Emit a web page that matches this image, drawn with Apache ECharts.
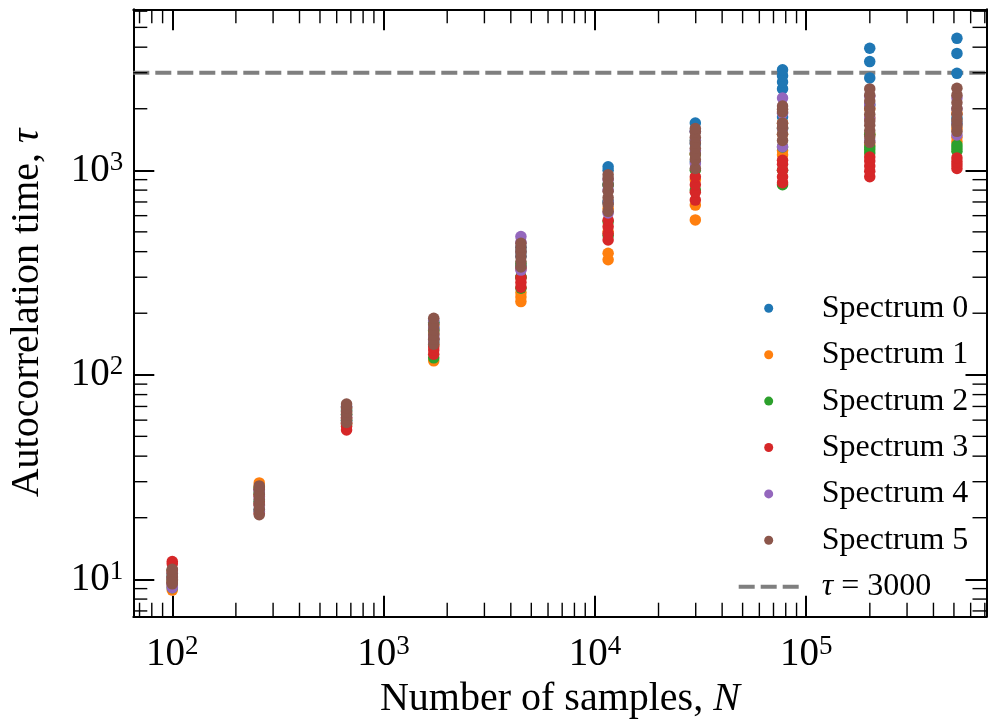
<!DOCTYPE html>
<html>
<head>
<meta charset="utf-8">
<script src="https://cdn.jsdelivr.net/npm/echarts@6/dist/echarts.min.js"></script>
<style>
html,body{margin:0;padding:0;background:#fff;}
#chart{width:988px;height:723px;}
</style>
</head>
<body>
<div id="chart"></div>
<script>
// ---------------- data ----------------
const N_SAMPLES = [100, 258, 668, 1727, 4466, 11550, 29870, 77250, 199800, 516700];

const SERIES_NAMES = ['Spectrum 0', 'Spectrum 1', 'Spectrum 2', 'Spectrum 3', 'Spectrum 4', 'Spectrum 5'];
const SERIES_COLORS = ['#1f77b4', '#ff7f0e', '#2ca02c', '#d62728', '#9467bd', '#8c564b'];

// autocorrelation time estimates, one inner list per N
const TAU_SPECTRUM_0 = [
  [9.6, 10.1, 10.6, 11.0, 10.3],
  [22, 24, 26, 27.5],
  [60, 64, 68, 70],
  [150, 160, 170, 180],
  [300, 340, 380, 420],
  [700, 850, 1000, 1040],
  [1100, 1350, 1550, 1703],
  [1820, 2500, 2700, 2900, 3100],
  [2085, 2830, 3400, 3950],
  [1800, 2980, 3730, 4420]
];
const TAU_SPECTRUM_1 = [
  [8.85, 9.3, 10.0, 10.8, 9.7],
  [23, 26, 28.5, 29.6],
  [58, 61, 65, 69],
  [117, 140, 160, 175],
  [228, 240, 252, 300],
  [365, 393, 500, 650],
  [572, 676, 900, 1200],
  [1190, 1250, 1500, 1700],
  [1330, 1500, 1800, 2000],
  [1380, 1450, 1600, 1900]
];
const TAU_SPECTRUM_2 = [
  [9.1, 9.6, 10.3, 11.1, 10.0],
  [21.5, 24, 26.5, 28],
  [57, 60, 64, 67],
  [121, 145, 165, 180],
  [265, 300, 350, 400],
  [480, 560, 700, 850],
  [800, 1000, 1200, 1400],
  [850, 1000, 1300, 1600],
  [1215, 1260, 1300, 1500],
  [1240, 1285, 1330, 1700]
];
const TAU_SPECTRUM_3 = [
  [10.2, 11.0, 11.9, 12.2, 9.6],
  [21, 23.5, 25.5, 27.5],
  [53.7, 56, 58, 62],
  [126, 132, 137, 150],
  [268, 283, 298, 330],
  [456, 490, 530, 570],
  [715, 780, 850, 930],
  [870, 930, 1000, 1070, 1120],
  [930, 990, 1050, 1110, 1160],
  [1020, 1060, 1100, 1150]
];
const TAU_SPECTRUM_4 = [
  [9.1, 9.5, 10.1, 10.7, 9.3],
  [21.5, 23, 25, 27],
  [59, 62, 66, 70],
  [145, 155, 170, 185],
  [325, 400, 445, 474],
  [618, 700, 800, 900],
  [1075, 1250, 1400, 1550],
  [1305, 1600, 1900, 2255],
  [1400, 1800, 2100, 2300],
  [1490, 1700, 2000, 2255]
];
const TAU_SPECTRUM_5 = [
  [9.5, 9.9, 10.3, 10.7, 11.2, 9.7],
  [20.7, 22, 23.3, 24.6, 26, 27.5, 28.6],
  [58.5, 61, 63.5, 66, 69, 72],
  [141, 149, 157, 166, 176, 189],
  [337, 357, 378, 400, 420, 440],
  [630, 680, 735, 790, 850, 910, 950],
  [1020, 1130, 1200, 1280, 1360, 1450, 1540, 1600],
  [1400, 1500, 1620, 1700, 1930, 1990, 2060],
  [1370, 1460, 1560, 1660, 1740, 1880, 2000, 2180, 2330, 2500],
  [1550, 1650, 1760, 1880, 2000, 2140, 2330, 2520]
];
const TAU_BY_SPECTRUM = [TAU_SPECTRUM_0, TAU_SPECTRUM_1, TAU_SPECTRUM_2, TAU_SPECTRUM_3, TAU_SPECTRUM_4, TAU_SPECTRUM_5];

const TAU_THRESHOLD = 3000;
const TAU_LINE_NAME = 'τ = 3000';

// axis ranges and ticks
const X_MIN = 65.4, X_MAX = 713000;
const Y_MIN = 6.56, Y_MAX = 6128;
const MINOR_MULTIPLIERS = [2, 3, 4, 5, 6, 7, 8, 9];
const X_DECADES = [10, 100, 1000, 10000, 100000];
const Y_DECADES = [1, 10, 100, 1000];

// ---------------- chart ----------------
const FONT = 'Liberation Serif';
const minorVals = (decades, lo, hi) => {
  const out = [];
  decades.forEach(d => MINOR_MULTIPLIERS.forEach(m => { const v = d * m; if (v > lo && v < hi) out.push(v); }));
  return out;
};
const X_MINOR = minorVals(X_DECADES, X_MIN, X_MAX);
const Y_MINOR = minorVals(Y_DECADES, Y_MIN, Y_MAX);

const powLabel = (v) => {
  const l = Math.log10(v), e = Math.round(l);
  if (Math.abs(l - e) > 1e-6) return '';
  return '{b|10}{s|' + e + '}';
};
const labelRich = {
  b: {fontFamily: FONT, fontSize: 39, color: '#000', lineHeight: 42},
  s: {fontFamily: FONT, fontSize: 27, color: '#000', lineHeight: 20, verticalAlign: 'top'}
};

const axisCommon = {
  type: 'log',
  logBase: 10,
  axisLine: {show: true, onZero: false, lineStyle: {color: '#000', width: 2}},
  axisTick: {show: true, inside: true, length: 21, lineStyle: {color: '#000', width: 2}},
  splitLine: {show: false},
  minorTick: {show: false},
  minorSplitLine: {show: false}
};

const scatterSeries = TAU_BY_SPECTRUM.map((tau, k) => ({
  type: 'scatter',
  name: SERIES_NAMES[k],
  xAxisIndex: 0, yAxisIndex: 0,
  symbol: 'circle',
  symbolSize: 11.5,
  itemStyle: {color: SERIES_COLORS[k], opacity: 1},
  z: 3,
  data: N_SAMPLES.flatMap((n, i) => tau[i].map(t => [n, t]))
}));

const tickSeries = (vals, isX) => ({
  type: 'custom',
  xAxisIndex: 0, yAxisIndex: 0,
  silent: true,
  z: 5,
  data: vals.map(v => isX ? [v, 10] : [1000, v]),
  renderItem: (params, api) => {
    const cs = params.coordSys;
    const p = api.coord([api.value(0), api.value(1)]);
    const st = {stroke: '#000', lineWidth: 1.4};
    if (isX) {
      const x = p[0];
      return {type: 'group', children: [
        {type: 'line', shape: {x1: x, y1: cs.y + cs.height, x2: x, y2: cs.y + cs.height - 14}, style: st},
        {type: 'line', shape: {x1: x, y1: cs.y, x2: x, y2: cs.y + 14}, style: st}
      ]};
    }
    const y = p[1];
    return {type: 'group', children: [
      {type: 'line', shape: {x1: cs.x, y1: y, x2: cs.x + 14, y2: y}, style: st},
      {type: 'line', shape: {x1: cs.x + cs.width, y1: y, x2: cs.x + cs.width - 14, y2: y}, style: st}
    ]};
  }
});

const legendData = SERIES_NAMES.map(n => ({name: n})).concat([
  {
    name: TAU_LINE_NAME,
    itemStyle: {color: 'rgba(0,0,0,0)', borderColor: 'rgba(0,0,0,0)', borderWidth: 0, opacity: 0},
    lineStyle: {color: '#7f7f7f', width: 4, type: [16, 6], opacity: 1}
  }
]);

const chart = echarts.init(document.getElementById('chart'), null, {renderer: 'canvas'});
chart.setOption({
  animation: false,
  backgroundColor: '#fff',
  textStyle: {fontFamily: FONT},
  grid: {left: 133.3, right: 1.5, top: 9.3, bottom: 106.3, containLabel: false, outerBoundsMode: 'none'},
  legend: {
    show: true,
    data: legendData,
    orient: 'vertical',
    left: 736.7,
    top: 292.3,
    padding: 0,
    itemWidth: 60,
    itemHeight: 9,
    itemGap: 14.4,
    selectedMode: false,
    formatter: (name) => name === TAU_LINE_NAME ? '{g|}{i|τ} = 3000' : '{g|}' + name,
    textStyle: {
      fontFamily: FONT, fontSize: 32, color: '#000', lineHeight: 30,
      rich: {
        g: {width: 18, lineHeight: 30},
        i: {fontFamily: FONT, fontSize: 32, fontStyle: 'italic', color: '#000', lineHeight: 30}
      }
    }
  },
  xAxis: [
    Object.assign({}, axisCommon, {
      position: 'bottom', min: X_MIN, max: X_MAX,
      axisLabel: {show: true, formatter: powLabel, rich: labelRich, margin: 17, showMinLabel: false, showMaxLabel: false},
      name: 'Number of samples, {i|N}',
      nameLocation: 'middle',
      nameGap: 58,
      nameTextStyle: {
        fontFamily: FONT, fontSize: 40, color: '#000', verticalAlign: 'top',
        rich: {i: {fontFamily: FONT, fontSize: 40, fontStyle: 'italic', color: '#000'}}
      }
    }),
    Object.assign({}, axisCommon, {
      position: 'top', min: X_MIN, max: X_MAX,
      axisLabel: {show: false}
    })
  ],
  yAxis: [
    Object.assign({}, axisCommon, {
      position: 'left', min: Y_MIN, max: Y_MAX,
      axisLabel: {show: true, formatter: powLabel, rich: labelRich, margin: 10, showMinLabel: false, showMaxLabel: false},
      name: 'Autocorrelation time, {i|τ}',
      nameLocation: 'middle',
      nameGap: 86,
      nameTextStyle: {
        fontFamily: FONT, fontSize: 40, color: '#000',
        rich: {i: {fontFamily: FONT, fontSize: 40, fontStyle: 'italic', color: '#000'}}
      }
    }),
    Object.assign({}, axisCommon, {
      position: 'right', min: Y_MIN, max: Y_MAX,
      axisLabel: {show: false}
    })
  ],
  series: [
    {
      type: 'line',
      name: TAU_LINE_NAME,
      xAxisIndex: 0, yAxisIndex: 0,
      symbol: 'none',
      showSymbol: false,
      silent: true,
      z: 2,
      itemStyle: {color: '#7f7f7f'},
      lineStyle: {color: '#7f7f7f', width: 4, type: [16, 6]},
      data: [[X_MIN, TAU_THRESHOLD], [X_MAX, TAU_THRESHOLD]]
    }
  ].concat(scatterSeries, [tickSeries(X_MINOR, true), tickSeries(Y_MINOR, false)])
});
</script>
</body>
</html>
